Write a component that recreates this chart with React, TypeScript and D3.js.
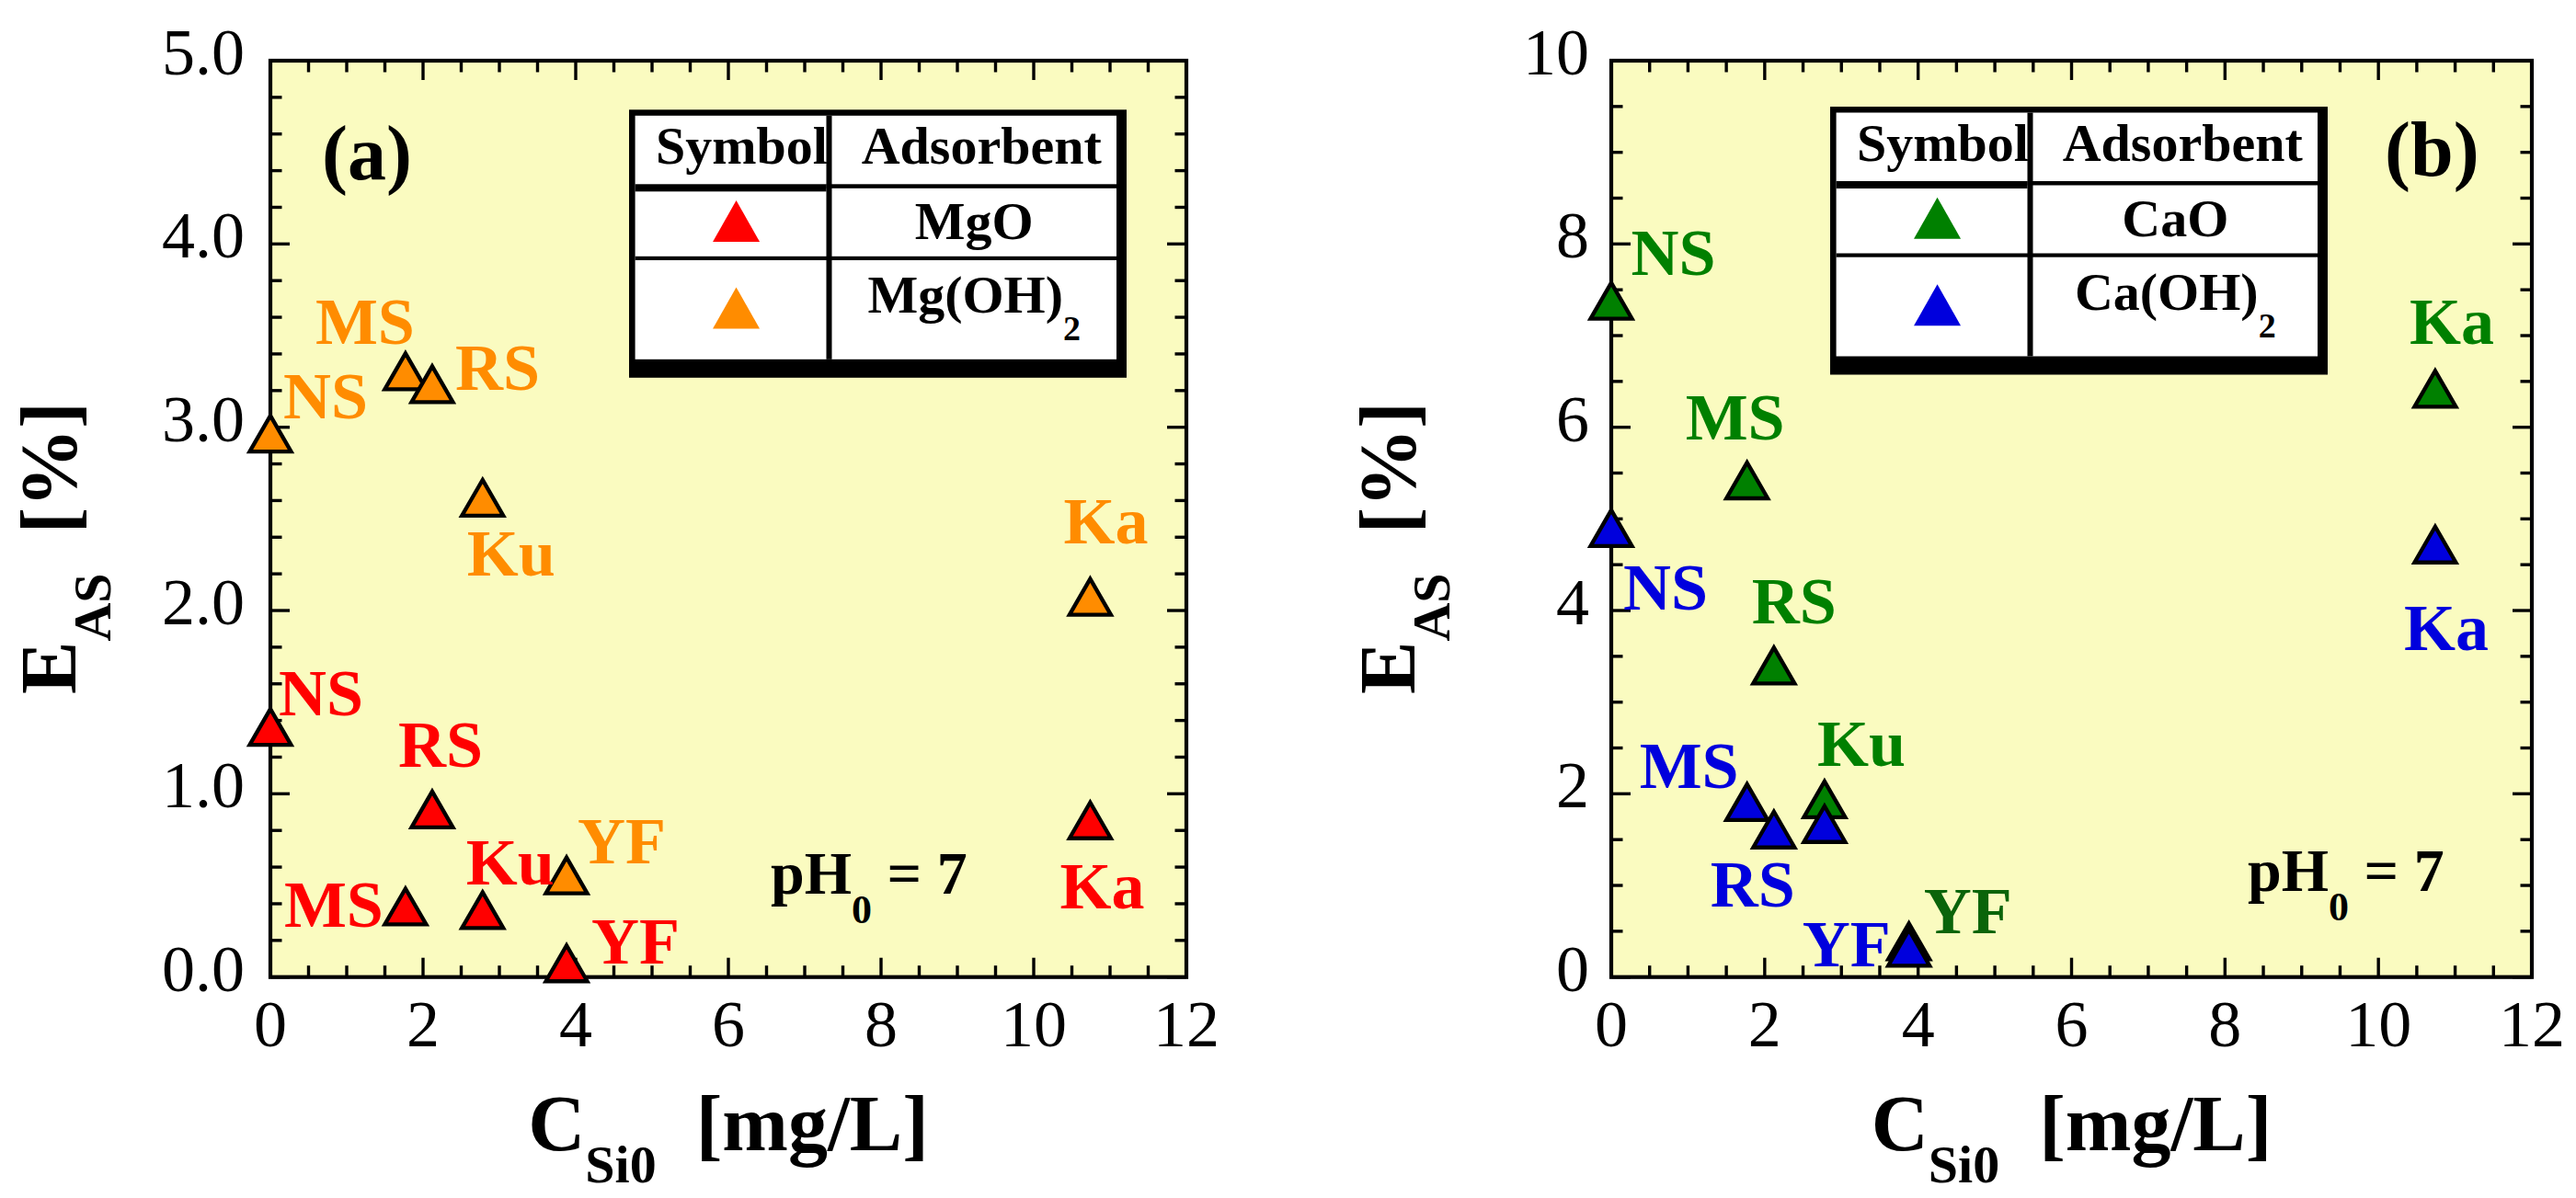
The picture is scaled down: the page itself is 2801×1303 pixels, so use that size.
import React from 'react';
import * as d3 from 'd3';

// ---------- data ----------
const samples = ['NS', 'MS', 'RS', 'Ku', 'YF', 'Ka'];
const cSi0 = [0, 1.77, 2.12, 2.78, 3.88, 10.74];
const easMgO = [1.37, 0.39, 0.92, 0.37, 0.08, 0.86];
const easMgOH2 = [2.97, 3.31, 3.24, 2.62, 0.56, 2.08];
const easCaO = [7.39, 5.43, 3.41, 1.95, 0.4, 6.43];
const easCaOH2 = [4.91, 1.92, 1.62, 1.68, 0.33, 4.73];
const xTickLabels = [0, 2, 4, 6, 8, 10, 12];
const yTickLabelsA = [0, 1, 2, 3, 4, 5];
const yTickLabelsB = [0, 2, 4, 6, 8, 10];

// ---------- label placement (screen offsets from marker, px) ----------
const offMgO = [[9, -12], [-132, 23], [-37, -45], [-18, -27], [27, 1], [-33, 97]];
const offMgOH2 = [[14, -16], [-98, -29], [25, 7], [-17, 86], [12, -12], [-29, -57]];
const offCaO = [[21.5, -27], [-67, -43], [-24, -45], [-8, -35], [16, -8], [-28, -48]];
const offCaOH2 = [[13, 90], [-117, -14], [-69, 85], null, [-116, 21], [-34, 116]];

const FONT = '"Liberation Serif", "Times New Roman", Times, serif';
const BG = '#FAFBC0';
const TRI = 'M0,-18.5L22.5,20.5L-22.5,20.5Z';
const LTRI = 'M0,-22.5L25.5,22.5L-25.5,22.5Z';

type Series = {
  name: string;
  sub?: string;
  values: number[];
  color: string;
  offsets: (number[] | null)[];
  labelColors?: Record<string, string>;
};

type PanelCfg = {
  left: number; right: number; top: number; bottom: number;
  yMax: number; yTicks: number[]; yMinor: number; yFmt: (n: number) => string;
  yLabelGap: number;
  tag: string; tagX: number; tagY: number;
  legendX: number; legendY: number;
  pHX: number; pHY: number;
  yTitleX: number;
  series: Series[];
};

const panels: PanelCfg[] = [
  {
    left: 294, right: 1290, top: 66, bottom: 1062.7,
    yMax: 5, yTicks: yTickLabelsA, yMinor: 0.2, yFmt: d3.format('.1f'), yLabelGap: 28,
    tag: '(a)', tagX: 350, tagY: 195,
    legendX: 684, legendY: 119.3,
    pHX: 838, pHY: 972,
    yTitleX: 82,
    series: [
      { name: 'MgO', values: easMgO, color: '#FF0000', offsets: offMgO },
      { name: 'Mg(OH)', sub: '2', values: easMgOH2, color: '#FF8C00', offsets: offMgOH2 },
    ],
  },
  {
    left: 1752, right: 2753, top: 66, bottom: 1062.7,
    yMax: 10, yTicks: yTickLabelsB, yMinor: 0.5, yFmt: d3.format('d'), yLabelGap: 24,
    tag: '(b)', tagX: 2593, tagY: 191,
    legendX: 1990, legendY: 116,
    pHX: 2444, pHY: 969,
    yTitleX: 1538,
    series: [
      { name: 'CaO', values: easCaO, color: '#008000', offsets: offCaO, labelColors: { YF: '#0A640A' } },
      { name: 'Ca(OH)', sub: '2', values: easCaOH2, color: '#0000DD', offsets: offCaOH2 },
    ],
  },
];

function Legend({ x, y, series }: { x: number; y: number; series: Series[] }) {
  const W = 541, H = 291.5;
  const fl = 6.6, ft = 6.5, fr = 11, fb = 20;
  const divX = 214.5, divW = 6;
  const c1 = (fl + divX) / 2 + 6;
  const c2 = (divX + divW + (W - fr)) / 2;
  return (
    <g transform={`translate(${x},${y})`} fontFamily={FONT} fontWeight="bold">
      <rect x={0} y={0} width={W} height={H} fill="#000" />
      <rect x={fl} y={ft} width={W - fl - fr} height={H - ft - fb} fill="#fff" />
      <rect x={divX} y={ft} width={divW} height={H - ft - fb} fill="#000" />
      <rect x={fl} y={81} width={divX - fl} height={8} fill="#000" />
      <rect x={divX} y={81} width={W - fr - divX} height={4.5} fill="#000" />
      <rect x={fl} y={159.5} width={W - fl - fr} height={4.2} fill="#000" />
      <text x={29} y={58.7} fontSize={58} fill="#000">Symbol</text>
      <text x={252.7} y={58.7} fontSize={58} fill="#000">Adsorbent</text>
      {series.map((s, i) => (
        <g key={s.name}>
          <path d={LTRI} transform={`translate(${c1},${i === 0 ? 121.2 : 215.7})`} fill={s.color} />
          <text x={c2} y={i === 0 ? 140.7 : 221} fontSize={58} textAnchor="middle" fill="#000">
            {s.name}
            {s.sub ? <tspan dy={30} fontSize={38}>{s.sub}</tspan> : null}
          </text>
        </g>
      ))}
    </g>
  );
}

function Panel({ cfg }: { cfg: PanelCfg }) {
  const x = d3.scaleLinear().domain([0, 12]).range([cfg.left, cfg.right]);
  const y = d3.scaleLinear().domain([0, cfg.yMax]).range([cfg.bottom, cfg.top]);
  const xMinor = d3.range(0, 12.0001, 0.5).filter((v) => Math.abs(v / 2 - Math.round(v / 2)) > 1e-6);
  const yMajorStep = cfg.yTicks[1] - cfg.yTicks[0];
  const yMinor = d3
    .range(0, cfg.yMax + 1e-6, cfg.yMinor)
    .filter((v) => Math.abs(v / yMajorStep - Math.round(v / yMajorStep)) > 1e-6);
  const MAJ = 21, MIN = 12.5, TW = 3.4;
  const cx = (cfg.left + cfg.right) / 2;
  const cy = 596;
  return (
    <g>
      <rect x={cfg.left} y={cfg.top} width={cfg.right - cfg.left} height={cfg.bottom - cfg.top} fill={BG} />
      <g stroke="#000" strokeWidth={TW}>
        {xTickLabels.map((v) => (
          <g key={'xM' + v}>
            <line x1={x(v)} x2={x(v)} y1={cfg.bottom} y2={cfg.bottom - MAJ} />
            <line x1={x(v)} x2={x(v)} y1={cfg.top} y2={cfg.top + MAJ} />
          </g>
        ))}
        {xMinor.map((v) => (
          <g key={'xm' + v}>
            <line x1={x(v)} x2={x(v)} y1={cfg.bottom} y2={cfg.bottom - MIN} />
            <line x1={x(v)} x2={x(v)} y1={cfg.top} y2={cfg.top + MIN} />
          </g>
        ))}
        {cfg.yTicks.map((v) => (
          <g key={'yM' + v}>
            <line x1={cfg.left} x2={cfg.left + MAJ} y1={y(v)} y2={y(v)} />
            <line x1={cfg.right} x2={cfg.right - MAJ} y1={y(v)} y2={y(v)} />
          </g>
        ))}
        {yMinor.map((v) => (
          <g key={'ym' + v}>
            <line x1={cfg.left} x2={cfg.left + MIN} y1={y(v)} y2={y(v)} />
            <line x1={cfg.right} x2={cfg.right - MIN} y1={y(v)} y2={y(v)} />
          </g>
        ))}
      </g>
      <rect x={cfg.left} y={cfg.top} width={cfg.right - cfg.left} height={cfg.bottom - cfg.top}
        fill="none" stroke="#000" strokeWidth={4.2} />
      {/* tick labels */}
      <g fontFamily={FONT} fontSize={72} fill="#000">
        {xTickLabels.map((v) => (
          <text key={'xl' + v} x={x(v)} y={1138} textAnchor="middle">{v}</text>
        ))}
        {cfg.yTicks.map((v) => (
          <text key={'yl' + v} x={cfg.left - cfg.yLabelGap} y={y(v) + 15} textAnchor="end">{cfg.yFmt(v)}</text>
        ))}
      </g>
      {/* axis titles */}
      <text x={cx} y={1251} textAnchor="middle" fontFamily={FONT} fontWeight="bold" fontSize={86} fill="#000">
        C<tspan dy={35} fontSize={58}>Si0</tspan>
        <tspan dy={-35}>{'\u00a0\u00a0[mg/L]'}</tspan>
      </text>
      <text transform={`translate(${cfg.yTitleX},${cy}) rotate(-90)`} textAnchor="middle" fontFamily={FONT}
        fontWeight="bold" fontSize={86} fill="#000">
        E<tspan dy={38} fontSize={58}>AS</tspan>
        <tspan dy={-38}>{'\u00a0\u00a0[%]'}</tspan>
      </text>
      {/* panel tag */}
      <text x={cfg.tagX} y={cfg.tagY} fontFamily={FONT} fontWeight="bold" fontSize={84} fill="#000">{cfg.tag}</text>
      {/* pH note */}
      <text x={cfg.pHX} y={cfg.pHY} fontFamily={FONT} fontWeight="bold" fontSize={66} fill="#000">
        pH<tspan dy={32} fontSize={44}>0</tspan>
        <tspan dy={-32}>{'\u00a0=\u00a07'}</tspan>
      </text>
      <Legend x={cfg.legendX} y={cfg.legendY} series={cfg.series} />
      {/* markers */}
      {cfg.series.map((s) => (
        <g key={'m' + s.name}>
          {s.values.map((v, i) => (
            <path key={samples[i]} d={TRI} transform={`translate(${x(cSi0[i])},${y(v)})`}
              fill={s.color} stroke="#000" strokeWidth={4.3} strokeLinejoin="miter" />
          ))}
        </g>
      ))}
      {/* point labels */}
      {cfg.series.map((s) => (
        <g key={'l' + s.name} fontFamily={FONT} fontWeight="bold" fontSize={72}>
          {s.values.map((v, i) => {
            const o = s.offsets[i];
            if (!o) return null;
            const col = (s.labelColors && s.labelColors[samples[i]]) || s.color;
            return (
              <text key={samples[i]} x={x(cSi0[i]) + o[0]} y={y(v) + o[1]} fill={col}>{samples[i]}</text>
            );
          })}
        </g>
      ))}
    </g>
  );
}

export default function App() {
  return (
    <svg width={2801} height={1303} viewBox="0 0 2801 1303"
      style={{ position: 'absolute', left: 0, top: 0, display: 'block', background: '#fff' }}>
      <rect x={0} y={0} width={2801} height={1303} fill="#fff" />
      {panels.map((p) => (
        <Panel key={p.tag} cfg={p} />
      ))}
    </svg>
  );
}
